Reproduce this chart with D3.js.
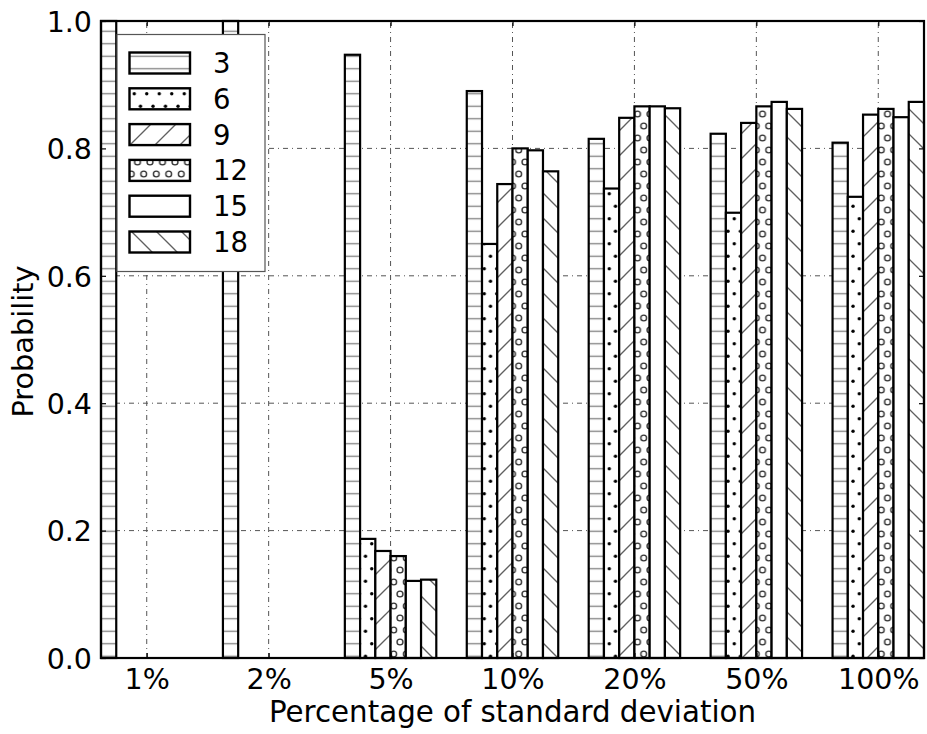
<!DOCTYPE html>
<html>
<head>
<meta charset="utf-8">
<script src="https://cdn.jsdelivr.net/npm/d3@7"></script>
<style>
  html, body { margin: 0; padding: 0; background: #fff; }
  svg { display: block; }
  text { font-family: "DejaVu Sans", sans-serif; fill: #000; }
</style>
</head>
<body>
<svg id="chart" width="927" height="734"></svg>
<script>
// Percentage of standard deviation (x categories)
const categories = ["1%", "2%", "5%", "10%", "20%", "50%", "100%"];
// Series names shown in the legend
const seriesNames = ["3", "6", "9", "12", "15", "18"];
// Probability per category for each series
const s3  = [1.000, 1.000, 0.947, 0.890, 0.815, 0.823, 0.809];
const s6  = [0.000, 0.000, 0.187, 0.650, 0.737, 0.699, 0.724];
const s9  = [0.000, 0.000, 0.168, 0.744, 0.848, 0.840, 0.853];
const s12 = [0.000, 0.000, 0.160, 0.800, 0.866, 0.866, 0.862];
const s15 = [0.000, 0.000, 0.121, 0.797, 0.866, 0.873, 0.849];
const s18 = [0.000, 0.000, 0.123, 0.764, 0.863, 0.862, 0.873];
const seriesValues = [s3, s6, s9, s12, s15, s18];
const yTicks = [0.0, 0.2, 0.4, 0.6, 0.8, 1.0];
const hatchIds = ["h-horiz", "h-dots", "h-fwd", "h-rings", "h-none", "h-back"];

const svg = d3.select("#chart");
const barW = 0.125;
const nSeries = seriesNames.length;

const x = d3.scaleLinear()
  .domain([0, categories.length - 1 + nSeries * barW])
  .range([101, 924]);
const y = d3.scaleLinear().domain([0, 1]).range([658, 21]);

// ---- hatch patterns ----
const defs = svg.append("defs");
function pattern(id, w, h) {
  const p = defs.append("pattern").attr("id", id)
    .attr("patternUnits", "userSpaceOnUse")
    .attr("width", w).attr("height", h);
  p.append("rect").attr("width", w).attr("height", h).attr("fill", "#fff");
  return p;
}
// horizontal lines
pattern("h-horiz", 12.5, 12.5).append("line")
  .attr("x1", 0).attr("x2", 12.5).attr("y1", 6.25).attr("y2", 6.25)
  .attr("stroke", "#808080").attr("stroke-width", 1.3);
// small filled dots
{
  const p = pattern("h-dots", 12.5, 25);
  [[3, 6.25], [9.25, 18.75]].forEach(([cx, cy]) =>
    p.append("circle").attr("cx", cx).attr("cy", cy).attr("r", 1.7).attr("fill", "#000"));
}
// forward diagonal "/"
{
  const p = pattern("h-fwd", 25, 25);
  [[0, 25, 25, 0], [-2, 2, 2, -2], [23, 27, 27, 23]].forEach(([x1, y1, x2, y2]) =>
    p.append("line").attr("x1", x1).attr("y1", y1).attr("x2", x2).attr("y2", y2)
      .attr("stroke", "#606060").attr("stroke-width", 1.3));
}
// small open circles
{
  const p = pattern("h-rings", 12.5, 24);
  [[6.25, 6], [0, 18], [12.5, 18]].forEach(([cx, cy]) =>
    p.append("circle").attr("cx", cx).attr("cy", cy).attr("r", 2.9)
      .attr("fill", "none").attr("stroke", "#333").attr("stroke-width", 1.4));
}
// plain
pattern("h-none", 10, 10);
// back diagonal "\"
{
  const p = pattern("h-back", 25, 25);
  [[0, 0, 25, 25], [-2, 23, 2, 27], [23, -2, 27, 2]].forEach(([x1, y1, x2, y2]) =>
    p.append("line").attr("x1", x1).attr("y1", y1).attr("x2", x2).attr("y2", y2)
      .attr("stroke", "#606060").attr("stroke-width", 1.3));
}

const tickPos = categories.map((c, i) => i + (nSeries * barW) / 2);

// ---- grid (behind bars) ----
const grid = svg.append("g").attr("stroke", "#555").attr("stroke-width", 1)
  .attr("stroke-dasharray", "5,4,1,4").attr("fill", "none");
tickPos.forEach(t => grid.append("line")
  .attr("x1", x(t)).attr("x2", x(t)).attr("y1", y(0)).attr("y2", y(1)));
yTicks.forEach(t => grid.append("line")
  .attr("x1", x.range()[0]).attr("x2", x.range()[1]).attr("y1", y(t)).attr("y2", y(t)));

// ---- bars ----
const bars = [];
seriesValues.forEach((vals, j) => vals.forEach((v, i) =>
  bars.push({ j, i, v })));
svg.append("g").selectAll("rect").data(bars).join("rect")
  .attr("x", d => x(d.i + d.j * barW))
  .attr("width", d => x(barW) - x(0))
  .attr("y", d => y(d.v))
  .attr("height", d => y(0) - y(d.v))
  .attr("fill", d => `url(#${hatchIds[d.j]})`)
  .attr("stroke", "#000").attr("stroke-width", 2.2);

// ---- axes / frame ----
const [x0, x1] = x.range();
const [yb, yt] = y.range();
const axisG = svg.append("g");
// x ticks: bottom and top, pointing inward
const xAxisB = d3.axisBottom(x).tickValues(tickPos).tickFormat((d, i) => categories[i])
  .tickSizeInner(-5).tickSizeOuter(0).tickPadding(11);
const gxb = axisG.append("g").attr("transform", `translate(0,${yb})`).call(xAxisB);
const xAxisT = d3.axisTop(x).tickValues(tickPos).tickFormat("").tickSizeInner(-5).tickSizeOuter(0);
const gxt = axisG.append("g").attr("transform", `translate(0,${yt})`).call(xAxisT);
const yAxisL = d3.axisLeft(y).tickValues(yTicks).tickFormat(d3.format(".1f"))
  .tickSizeInner(-5).tickSizeOuter(0).tickPadding(9);
const gyl = axisG.append("g").attr("transform", `translate(${x0},0)`).call(yAxisL);
const yAxisR = d3.axisRight(y).tickValues(yTicks).tickFormat("").tickSizeInner(-5).tickSizeOuter(0);
const gyr = axisG.append("g").attr("transform", `translate(${x1},0)`).call(yAxisR);
[gxb, gxt, gyl, gyr].forEach(g => {
  g.select(".domain").remove();
  g.selectAll(".tick line").attr("stroke", "#000").attr("stroke-width", 1.2);
  g.selectAll("text").style("font-family", "'DejaVu Sans', sans-serif")
    .style("font-size", "28.5px").attr("fill", "#000");
});
gxb.selectAll("text").attr("dy", "0.71em");
gyl.selectAll("text").attr("dy", "0.36em");

axisG.append("rect").attr("x", x0).attr("y", yt).attr("width", x1 - x0).attr("height", yb - yt)
  .attr("fill", "none").attr("stroke", "#000").attr("stroke-width", 2.2);

// ---- axis labels ----
svg.append("text").attr("x", (x0 + x1) / 2).attr("y", 722)
  .attr("text-anchor", "middle").style("font-size", "29.3px")
  .text("Percentage of standard deviation");
svg.append("text").attr("transform", `translate(33,${(yt + yb) / 2 + 2}) rotate(-90)`)
  .attr("text-anchor", "middle").style("font-size", "28.8px")
  .text("Probability");

// ---- legend ----
const legend = svg.append("g");
legend.append("rect").attr("x", 117).attr("y", 34.5).attr("width", 148).attr("height", 237)
  .attr("fill", "#fff").attr("stroke", "#555").attr("stroke-width", 1.2);
seriesNames.forEach((name, k) => {
  const cy = 63 + k * 35.8;
  legend.append("rect").attr("x", 129.5).attr("y", cy - 10.5).attr("width", 60.5).attr("height", 21)
    .attr("fill", `url(#${hatchIds[k]})`).attr("stroke", "#000").attr("stroke-width", 2.4);
  legend.append("text").attr("x", 213).attr("y", cy).attr("dy", "0.36em")
    .style("font-size", "27.5px").text(name);
});
</script>
</body>
</html>
